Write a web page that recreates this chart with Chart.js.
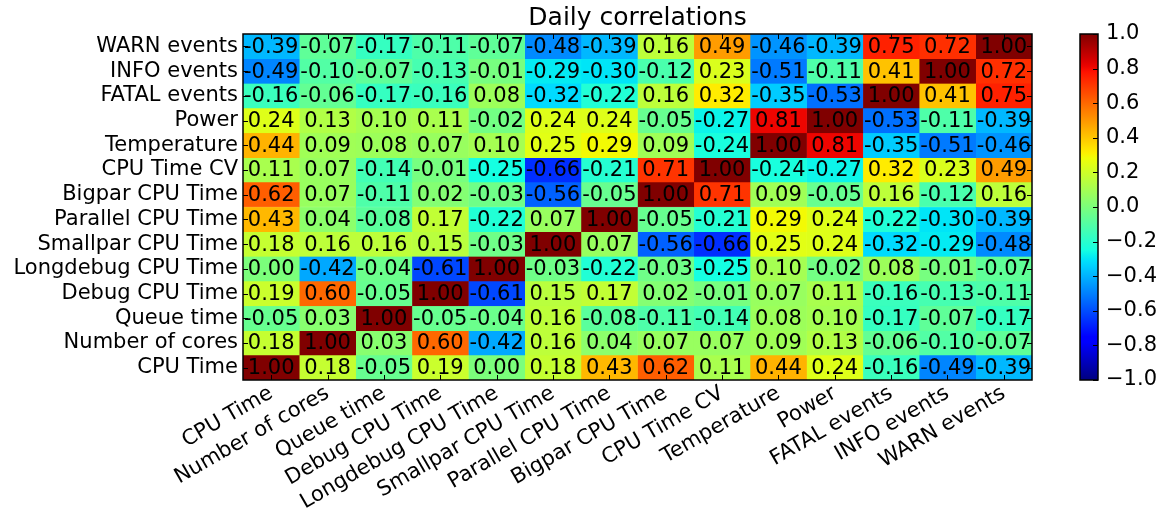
<!DOCTYPE html>
<html>
<head>
<meta charset="utf-8">
<title>Daily correlations</title>
<script src="https://cdn.jsdelivr.net/npm/chart.js@4.4.1/dist/chart.umd.min.js"></script>
<style>
  html, body { margin: 0; padding: 0; background: #fff; }
  #wrap { width: 1159px; height: 518px; }
</style>
</head>
<body>
<div id="wrap"><canvas id="heatmap" width="1159" height="518"></canvas></div>
<script>
// variables, bottom row / left column first
const variables = ['CPU Time', 'Number of cores', 'Queue time', 'Debug CPU Time', 'Longdebug CPU Time',
  'Smallpar CPU Time', 'Parallel CPU Time', 'Bigpar CPU Time', 'CPU Time CV', 'Temperature', 'Power',
  'FATAL events', 'INFO events', 'WARN events'];

// one row of the correlation matrix per variable
const cpuTime       = [ 1.00,  0.18, -0.05,  0.19,  0.00,  0.18,  0.43,  0.62,  0.11,  0.44,  0.24, -0.16, -0.49, -0.39];
const numberOfCores = [ 0.18,  1.00,  0.03,  0.60, -0.42,  0.16,  0.04,  0.07,  0.07,  0.09,  0.13, -0.06, -0.10, -0.07];
const queueTime     = [-0.05,  0.03,  1.00, -0.05, -0.04,  0.16, -0.08, -0.11, -0.14,  0.08,  0.10, -0.17, -0.07, -0.17];
const debugCpu      = [ 0.19,  0.60, -0.05,  1.00, -0.61,  0.15,  0.17,  0.02, -0.01,  0.07,  0.11, -0.16, -0.13, -0.11];
const longdebugCpu  = [ 0.00, -0.42, -0.04, -0.61,  1.00, -0.03, -0.22, -0.03, -0.25,  0.10, -0.02,  0.08, -0.01, -0.07];
const smallparCpu   = [ 0.18,  0.16,  0.16,  0.15, -0.03,  1.00,  0.07, -0.56, -0.66,  0.25,  0.24, -0.32, -0.29, -0.48];
const parallelCpu   = [ 0.43,  0.04, -0.08,  0.17, -0.22,  0.07,  1.00, -0.05, -0.21,  0.29,  0.24, -0.22, -0.30, -0.39];
const bigparCpu     = [ 0.62,  0.07, -0.11,  0.02, -0.03, -0.56, -0.05,  1.00,  0.71,  0.09, -0.05,  0.16, -0.12,  0.16];
const cpuTimeCv     = [ 0.11,  0.07, -0.14, -0.01, -0.25, -0.66, -0.21,  0.71,  1.00, -0.24, -0.27,  0.32,  0.23,  0.49];
const temperature   = [ 0.44,  0.09,  0.08,  0.07,  0.10,  0.25,  0.29,  0.09, -0.24,  1.00,  0.81, -0.35, -0.51, -0.46];
const power         = [ 0.24,  0.13,  0.10,  0.11, -0.02,  0.24,  0.24, -0.05, -0.27,  0.81,  1.00, -0.53, -0.11, -0.39];
const fatalEvents   = [-0.16, -0.06, -0.17, -0.16,  0.08, -0.32, -0.22,  0.16,  0.32, -0.35, -0.53,  1.00,  0.41,  0.75];
const infoEvents    = [-0.49, -0.10, -0.07, -0.13, -0.01, -0.29, -0.30, -0.12,  0.23, -0.51, -0.11,  0.41,  1.00,  0.72];
const warnEvents    = [-0.39, -0.07, -0.17, -0.11, -0.07, -0.48, -0.39,  0.16,  0.49, -0.46, -0.39,  0.75,  0.72,  1.00];

const matrix = [cpuTime, numberOfCores, queueTime, debugCpu, longdebugCpu, smallparCpu, parallelCpu,
  bigparCpu, cpuTimeCv, temperature, power, fatalEvents, infoEvents, warnEvents];

const colorbarTicks = [-1.0, -0.8, -0.6, -0.4, -0.2, 0.0, 0.2, 0.4, 0.6, 0.8, 1.0];

const FONT = 'DejaVu Sans';
const TITLE = 'Daily correlations';

// matplotlib "jet" colormap, value in [-1, 1]
function jet(v) {
  const t = Math.min(1, Math.max(0, (v + 1) / 2));
  const seg = pts => {
    for (let i = 1; i < pts.length; i++) {
      if (t <= pts[i][0]) {
        const [x0, y0] = pts[i - 1], [x1, y1] = pts[i];
        return y0 + (y1 - y0) * (t - x0) / (x1 - x0);
      }
    }
    return pts[pts.length - 1][1];
  };
  const r = seg([[0, 0], [0.35, 0], [0.66, 1], [0.89, 1], [1, 0.5]]);
  const g = seg([[0, 0], [0.125, 0], [0.375, 1], [0.64, 1], [0.91, 0], [1, 0]]);
  const b = seg([[0, 0.5], [0.11, 1], [0.34, 1], [0.65, 0], [1, 0]]);
  return `rgb(${Math.round(r * 255)},${Math.round(g * 255)},${Math.round(b * 255)})`;
}

// one stacked dataset per column, each cell is one unit wide
const datasets = variables.map((name, j) => ({
  label: name,
  data: matrix.map(() => 1),
  backgroundColor: matrix.map(row => jet(row[j])),
  borderColor: matrix.map(row => jet(row[j])),
  borderWidth: 0.5,
  borderSkipped: false,
  barPercentage: 1,
  categoryPercentage: 1
}));

// title, cell labels, frame, tick marks and the colour bar
const heatmapExtras = {
  id: 'heatmapExtras',
  afterDatasetsDraw(chart) {
    const { ctx, chartArea: a, scales } = chart;
    ctx.save();

    ctx.fillStyle = '#000';
    ctx.textAlign = 'center';
    ctx.textBaseline = 'middle';
    ctx.font = `25px "${FONT}"`;
    ctx.fillText(TITLE, (a.left + a.right) / 2, a.top - 16);

    ctx.font = `21px "${FONT}"`;
    chart.data.datasets.forEach((ds, j) => {
      chart.getDatasetMeta(j).data.forEach((bar, i) => {
        ctx.fillText(matrix[i][j].toFixed(2), (bar.x + bar.base) / 2, bar.y + 1);
      });
    });

    // inward ticks on all four sides
    ctx.strokeStyle = '#000';
    ctx.lineWidth = 1;
    ctx.beginPath();
    variables.forEach((v, i) => {
      const x = Math.round(scales.x.getPixelForValue(i + 0.5)) + 0.5;
      ctx.moveTo(x, a.bottom); ctx.lineTo(x, a.bottom - 5);
      ctx.moveTo(x, a.top); ctx.lineTo(x, a.top + 5);
      const y = Math.round(scales.y.getPixelForValue(i)) + 0.5;
      ctx.moveTo(a.left, y); ctx.lineTo(a.left + 5, y);
      ctx.moveTo(a.right, y); ctx.lineTo(a.right - 5, y);
    });
    ctx.stroke();

    ctx.lineWidth = 1.5;
    ctx.strokeRect(a.left, a.top, a.right - a.left, a.bottom - a.top);

    // colour bar
    const cb = scales.cb;
    const x0 = a.right + 48, w = 18;
    const yTop = cb.getPixelForValue(1), yBot = cb.getPixelForValue(-1);
    const grad = ctx.createLinearGradient(0, yBot, 0, yTop);
    for (let k = 0; k <= 64; k++) grad.addColorStop(k / 64, jet(-1 + 2 * k / 64));
    ctx.fillStyle = grad;
    ctx.fillRect(x0, yTop, w, yBot - yTop);

    ctx.lineWidth = 1;
    ctx.beginPath();
    colorbarTicks.forEach(v => {
      const y = Math.round(cb.getPixelForValue(v)) + 0.5;
      ctx.moveTo(x0 + w, y); ctx.lineTo(x0 + w - 5, y);
    });
    ctx.stroke();
    ctx.lineWidth = 1.5;
    ctx.strokeRect(x0, yTop, w, yBot - yTop);

    ctx.restore();
  }
};

const config = {
  type: 'bar',
  data: { labels: variables, datasets: datasets },
  options: {
    indexAxis: 'y',
    responsive: false,
    animation: false,
    layout: { padding: { top: 34, left: 0, right: 0, bottom: 0 } },
    plugins: {
      legend: { display: false },
      tooltip: { enabled: false },
      title: { display: false }
    },
    scales: {
      x: {
        type: 'linear',
        stacked: true,
        min: 0,
        max: variables.length,
        afterBuildTicks: s => { s.ticks = variables.map((v, i) => ({ value: i + 0.5 })); },
        ticks: {
          autoSkip: false,
          minRotation: 30,
          maxRotation: 30,
          padding: 1,
          color: '#000',
          font: { family: FONT, size: 21 },
          callback: (v, i) => variables[i]
        },
        grid: { display: false, drawTicks: false },
        border: { display: false },
        afterFit: s => { s.height = 138; }
      },
      y: {
        type: 'category',
        stacked: true,
        reverse: true,
        ticks: { autoSkip: false, padding: 5, color: '#000', font: { family: FONT, size: 21 } },
        grid: { display: false, drawTicks: false },
        border: { display: false },
        afterFit: s => { s.width = 243; }
      },
      cb: {
        type: 'linear',
        position: 'right',
        offset: false,
        min: -1,
        max: 1,
        afterBuildTicks: s => { s.ticks = colorbarTicks.map(v => ({ value: v })); },
        ticks: {
          autoSkip: false,
          padding: 2,
          color: '#000',
          font: { family: FONT, size: 21 },
          callback: v => (v < 0 ? '\u2212' : '') + Math.abs(v).toFixed(1)
        },
        // invisible tick marks only push the labels past the colour bar
        grid: { display: true, offset: false, drawOnChartArea: false, drawTicks: true, tickLength: 72, tickColor: 'rgba(0,0,0,0)' },
        border: { display: false },
        afterFit: s => { s.width = 127; }
      }
    }
  },
  plugins: [heatmapExtras]
};

const ctx = document.getElementById('heatmap').getContext('2d');
new Chart(ctx, config);
</script>
</body>
</html>
